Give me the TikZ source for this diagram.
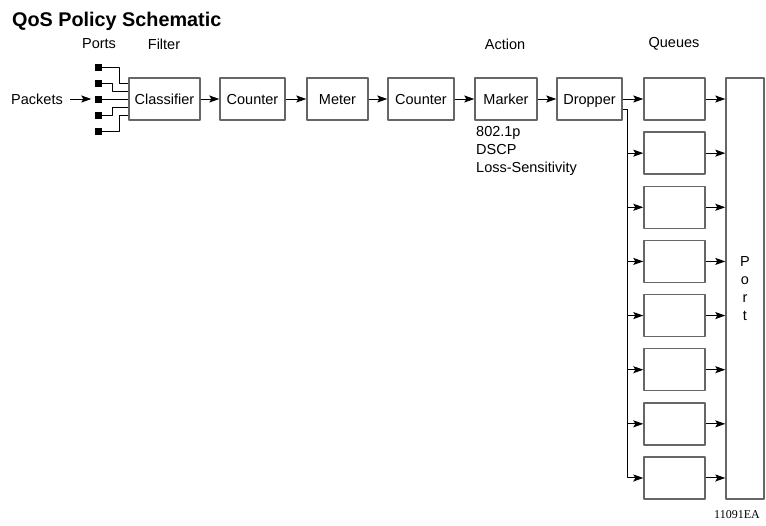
\documentclass[tikz,border=0pt]{standalone}
\usepackage{fontspec}
\setmainfont{Liberation Sans}
\newfontfamily\figfont{Liberation Serif}
\usetikzlibrary{arrows.meta}

\begin{document}
\begin{tikzpicture}[
  x=1pt, y=-1pt,
  font=\fontsize{14.5}{18}\selectfont,
  box/.style={draw=black!60, line width=1.4pt, minimum height=42pt, inner sep=0pt,
    text height=10.5pt, text depth=0pt},
  portsq/.style={fill=black, minimum size=7pt, inner sep=0pt},
  wire/.style={draw=black, line width=1pt},
  arr/.style={wire, -{Stealth[length=10pt, width=7pt, inset=2pt]}},
  line join=round]
\useasboundingbox (0,0) rectangle (766,525);
\node [anchor=base west, inner sep=0pt, font=\fontsize{19.8}{22}\selectfont\bfseries]
  (title) at (12,26) {QoS Policy Schematic};
\node (ports) at (99,44) {Ports};
\node (filter) at (164,44) {Filter};
\node (action) at (505,44) {Action};
\node (queues) at (674,44) {Queues};
\node (packets) at (37,99) {Packets};
\foreach \i [evaluate={\yp=51+16*\i;}] in {1,...,5}
  \node [portsq] (p\i) at (98,\yp) {};
\node [box, minimum width=71pt] (classifier) at (164.5,99) {Classifier};
\node [box, minimum width=65pt] (countera) at (252.5,99) {Counter};
\node [box, minimum width=61pt] (meter) at (337.5,99) {Meter};
\node [box, minimum width=66pt] (counterb) at (421,99) {Counter};
\node [box, minimum width=62pt] (marker) at (506,99) {Marker};
\node [box, minimum width=65pt] (dropper) at (589.5,99) {Dropper};
\node [anchor=north west, align=left, inner sep=0pt] (actions) at (476,126)
  {802.1p\\DSCP\\Loss-Sensitivity};
\foreach \k [evaluate={\yq=99+54.14*\k;}] in {0,...,7}
  \node [box, minimum width=61pt] (q\k) at (674.5,\yq) {};
\node [draw=black!60, line width=1.4pt, minimum width=38pt, minimum height=421pt,
  inner sep=0pt, align=center] (port) at (745,288.5) {P\\o\\r\\t};
\node [font=\fontsize{12}{14}\figfont] (code) at (737,515) {11091EA};
\draw [arr] ([xshift=4pt]packets.east) -- ([xshift=-3pt]p3.west);
\draw [wire] (p1.east) -- ++(18,0) |- ([yshift=16pt]classifier.west);
\draw [wire] (p2.east) -- ++(11,0) |- ([yshift=8pt]classifier.west);
\draw [wire] (p3.east) -- (classifier.west);
\draw [wire] (p4.east) -- ++(11,0) |- ([yshift=-8pt]classifier.west);
\draw [wire] (p5.east) -- ++(18,0) |- ([yshift=-16pt]classifier.west);
\draw [arr] (classifier) -- (countera);
\draw [arr] (countera) -- (meter);
\draw [arr] (meter) -- (counterb);
\draw [arr] (counterb) -- (marker);
\draw [arr] (marker) -- (dropper);
\draw [arr] (dropper) -- (q0);
\draw [wire] ([yshift=-10pt]dropper.east) -- ++(5,0) coordinate (tap);
\draw [arr] (tap) |- (q7.west);
\foreach \k in {1,...,6}
  \draw [arr] (tap |- q\k.west) -- (q\k.west);
\foreach \k in {0,...,7}
  \draw [arr] (q\k.east) -- (q\k.east -| port.west);
\end{tikzpicture}
\end{document}
